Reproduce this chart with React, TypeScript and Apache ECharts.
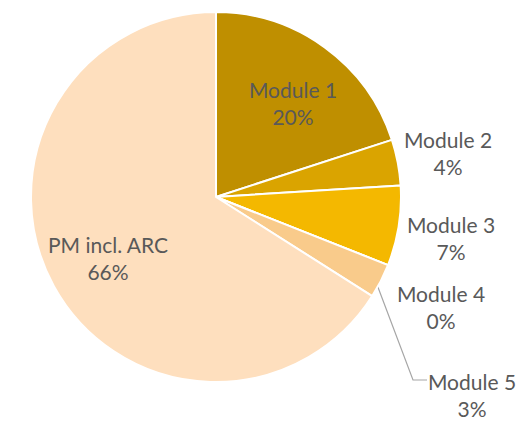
import React, { useEffect, useRef } from "react";
import * as echarts from "echarts";

const categories = ["Module 1", "Module 2", "Module 3", "Module 4", "Module 5", "PM incl. ARC"];
const shares = [20, 4, 7, 0, 3, 66];
const sliceColors = ["#BF8F00", "#DAA400", "#F4B800", "#FFD966", "#F9CB8B", "#FEDFBE"];

// label anchor positions (layout config, px)
const labelCenters: number[][] = [
  [293, 103],
  [448, 153],
  [451, 238],
  [441, 307],
  [472, 395],
  [108, 258],
];

const CX = 216;
const CY = 197;
const R = 185;

export default function App() {
  const ref = useRef<HTMLDivElement>(null);
  useEffect(() => {
    if (!ref.current) return;
    const chart = echarts.init(ref.current, undefined, { renderer: "svg" });
    const data = categories.map((name, i) => ({
      name,
      value: shares[i],
      itemStyle: { color: sliceColors[i] },
      labelLine: { show: i === 4 },
    }));
    chart.setOption({
      animation: false,
      backgroundColor: "#ffffff",
      series: [
        {
          type: "pie",
          center: [CX, CY],
          radius: R,
          startAngle: 90,
          clockwise: true,
          avoidLabelOverlap: false,
          data,
          itemStyle: { borderColor: "#ffffff", borderWidth: 2 },
          label: {
            show: true,
            position: "outside",
            formatter: (p: any) => `${p.name}\n${Math.round(p.percent)}%`,
            fontFamily: "Lato, 'Open Sans', sans-serif",
            fontSize: 21,
            lineHeight: 27,
            color: "#595959",
            align: "center",
          },
          labelLine: {
            show: false,
            lineStyle: { color: "#A6A6A6", width: 1.2 },
            length: 10,
            length2: 10,
          },
          labelLayout: (params: any) => {
            const i = params.dataIndex;
            const [x, y] = labelCenters[i];
            const res: any = { x, y, align: "center", verticalAlign: "middle" };
            if (i === 4) {
              const a = (119 * Math.PI) / 180;
              const start = [CX + R * Math.sin(a), CY - R * Math.cos(a)];
              res.labelLinePoints = [start, [x - 59, y - 15], [x - 45, y - 15]];
            }
            return res;
          },
        },
      ],
    });
    return () => chart.dispose();
  }, []);
  return (
    <div
      ref={ref}
      style={{ position: "absolute", left: 0, top: 0, width: 529, height: 421 }}
    />
  );
}
